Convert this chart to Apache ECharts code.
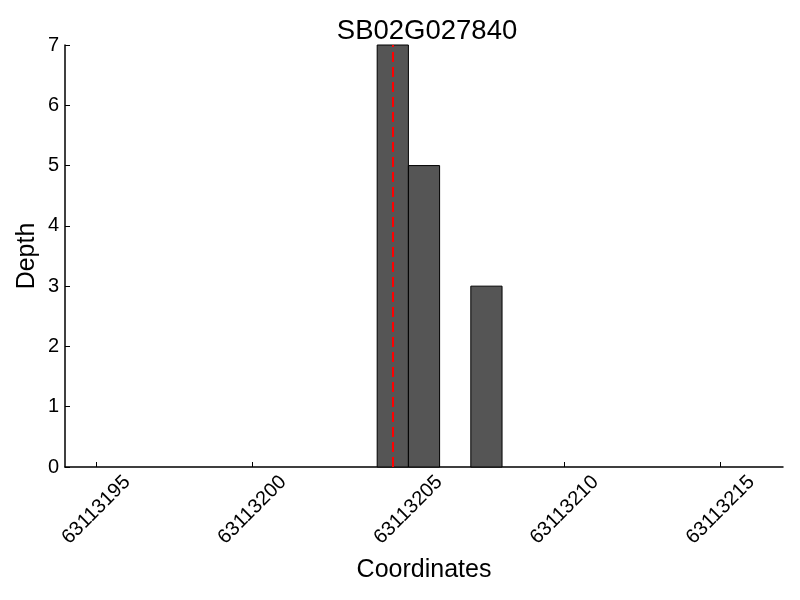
<!DOCTYPE html>
<html><head><meta charset="utf-8">
<script src="https://cdn.jsdelivr.net/npm/echarts@6/dist/echarts.min.js"></script>
<style>html,body{margin:0;padding:0;background:#fff}#c{width:800px;height:600px}</style>
</head><body><div id="c"></div>
<script>
const title = "SB02G027840";
const binStarts = [63113204, 63113205, 63113207];
const binEnds = [63113205, 63113206, 63113208];
const depths = [7, 5, 3];
const markerPos = 63113204.5;
const xTicks = [63113195, 63113200, 63113205, 63113210, 63113215];
const yTicks = [0, 1, 2, 3, 4, 5, 6, 7];

const chart = echarts.init(document.getElementById('c'), null, {renderer: 'canvas'});
const font = 'Liberation Sans, Arial, sans-serif';
const data = binStarts.map((s, i) => [s, binEnds[i], depths[i]]);
chart.setOption({
  animation: false,
  title: {text: title, left: 422, top: 12, textAlign: 'center',
    textStyle: {fontFamily: font, fontSize: 27.5, fontWeight: 'normal', color: '#000'}},
  grid: {left: 65, right: 17, top: 45, bottom: 133, containLabel: false, outerBoundsMode: 'none'},
  xAxis: {type: 'value', min: 63113194, max: 63113217,
    name: 'Coordinates', nameLocation: 'middle', nameGap: 91, nameMoveOverlap: false,
    nameTextStyle: {fontFamily: font, fontSize: 25, color: '#000'},
    axisLine: {show: true, onZero: false, lineStyle: {color: '#000', width: 1.5}},
    axisTick: {show: true, inside: true, length: 5, customValues: xTicks, lineStyle: {color: '#000'}},
    axisLabel: {customValues: xTicks, rotate: 45, margin: 43, align: 'center', verticalAlign: 'middle',
      fontFamily: font, fontSize: 20, color: '#000', formatter: v => String(v)},
    splitLine: {show: false}},
  yAxis: {type: 'value', min: 0, max: 7, interval: 1,
    name: 'Depth', nameLocation: 'middle', nameGap: 25, nameMoveOverlap: false,
    nameTextStyle: {fontFamily: font, fontSize: 25, color: '#000'},
    axisLine: {show: true, lineStyle: {color: '#000', width: 1.5}},
    axisTick: {show: true, inside: true, length: 5, lineStyle: {color: '#000'}},
    axisLabel: {margin: 6, fontFamily: font, fontSize: 20, color: '#000'},
    splitLine: {show: false}},
  series: [{
    type: 'custom',
    data: data,
    encode: {x: [0, 1], y: 2},
    renderItem: function (params, api) {
      const p0 = api.coord([api.value(0), 0]);
      const p1 = api.coord([api.value(1), api.value(2)]);
      return {type: 'rect',
        shape: {x: p0[0], y: p1[1], width: p1[0] - p0[0], height: p0[1] - p1[1]},
        style: {fill: '#555555', stroke: '#000', lineWidth: 1}};
    },
    markLine: {
      silent: true, symbol: 'none', label: {show: false},
      lineStyle: {color: '#ff0000', type: [10, 5], width: 2},
      data: [[{coord: [markerPos, 0]}, {coord: [markerPos, 7]}]]
    }
  }]
});
</script></body></html>
